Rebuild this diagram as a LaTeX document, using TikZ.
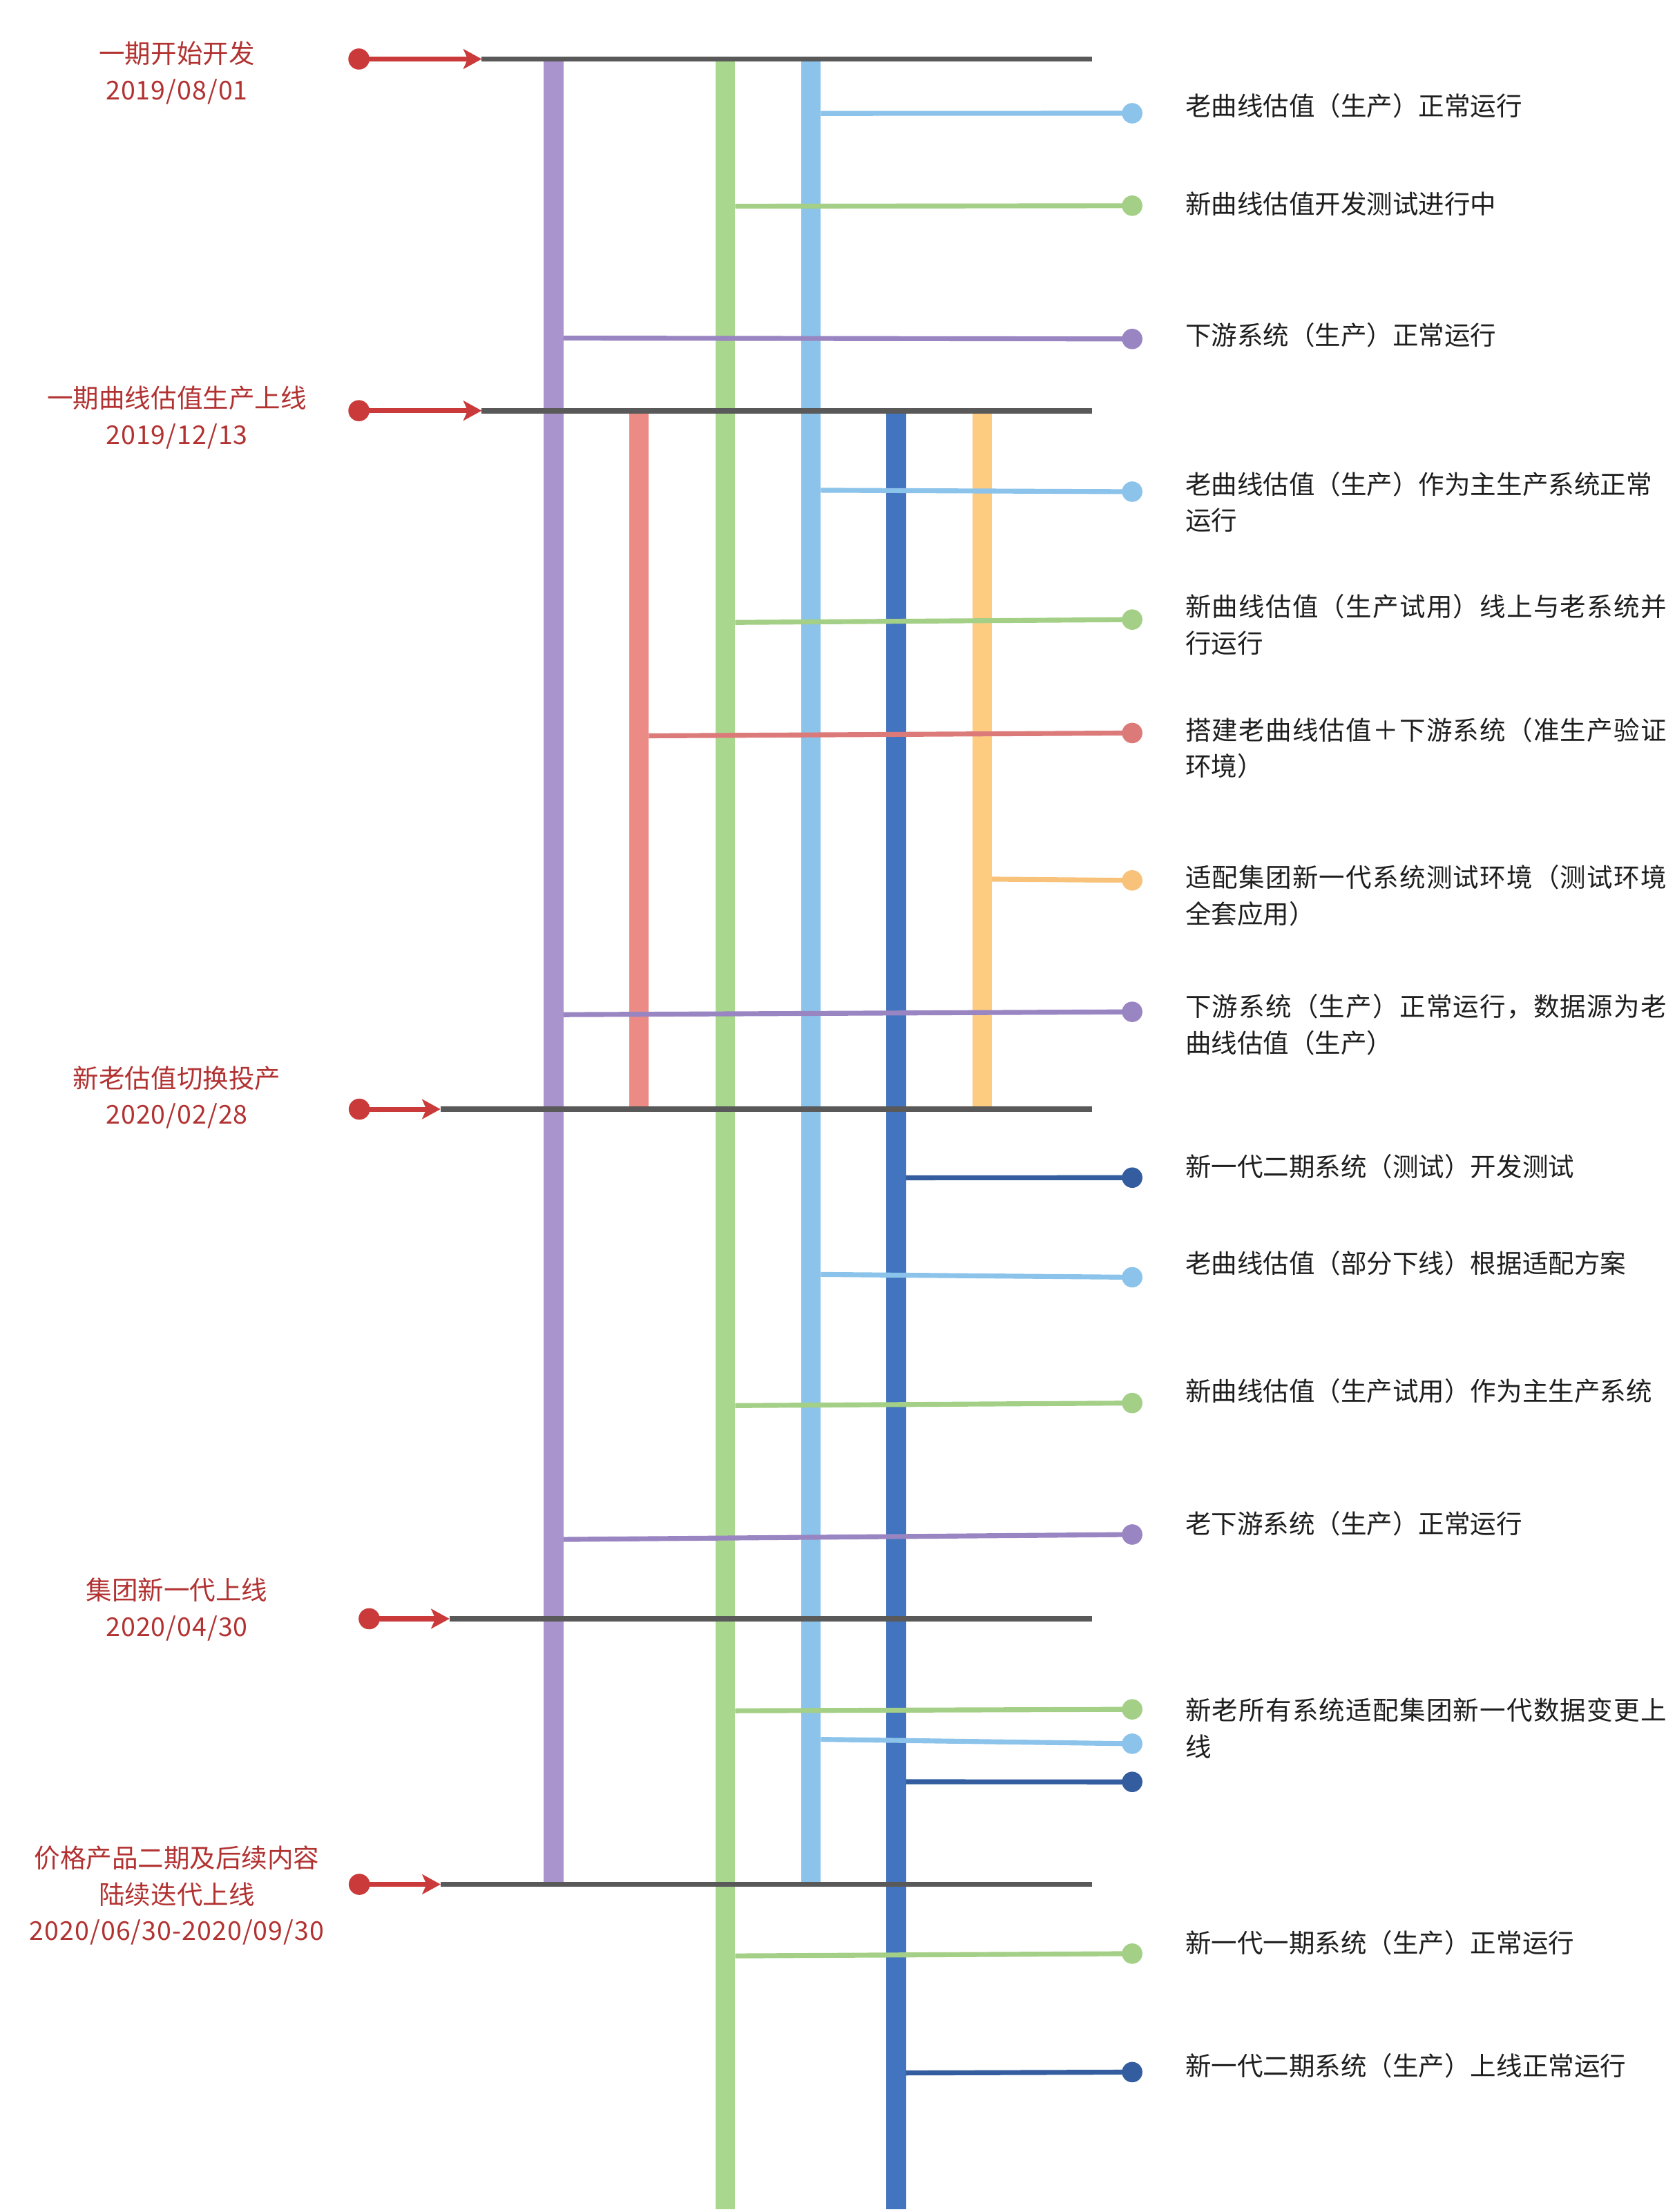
\documentclass[tikz,border=0pt]{standalone}
\usepackage{fontspec}
\setmainfont{Noto Sans CJK SC}
\usetikzlibrary{arrows.meta}
\definecolor{gry}{HTML}{595959}
\definecolor{pur}{HTML}{A994CE}
\definecolor{purb}{HTML}{9985C1}
\definecolor{sal}{HTML}{EC8A86}
\definecolor{salb}{HTML}{DC7A7A}
\definecolor{grn}{HTML}{A9D78D}
\definecolor{grnb}{HTML}{A4CF86}
\definecolor{lbl}{HTML}{8CC3EA}
\definecolor{dbl}{HTML}{4374BF}
\definecolor{dblb}{HTML}{335D9E}
\definecolor{org}{HTML}{FECC81}
\definecolor{orgb}{HTML}{F8C27B}
\definecolor{redt}{HTML}{B23232}
\definecolor{reda}{HTML}{CB3A3A}
\definecolor{txt}{HTML}{1E1E1E}
\newcommand{\wideline}[1]{{\addfontfeature{LetterSpace=3.3}#1}}
\newcommand{\widedate}[1]{{\addfontfeature{LetterSpace=2.8}#1}}
\tikzset{
  bar/.style={line width=14pt},
  gline/.style={draw=gry, line width=3.8pt},
  branch/.style={line width=3.5pt},
  enddot/.style={circle, inner sep=0pt, minimum size=14.5pt},
  startdot/.style={circle, fill=reda, inner sep=0pt, minimum size=15pt},
  arr/.style={draw=reda, line width=3.5pt, -{Stealth[length=13pt,width=14pt,inset=3pt]}},
  rlab/.style={anchor=west, align=left, inner sep=0pt, text=txt},
  llab/.style={align=center, inner sep=0pt, text=redt},
}
\begin{document}
\begin{tikzpicture}[x=1pt, y=-1pt, font=\fontsize{18.4}{25.8}\selectfont]
\useasboundingbox (0,0) rectangle (1188.7,1570.1);

% ---------- vertical bars ----------
\coordinate (pT) at (393,41.9);   \coordinate (pB) at (393,1337.5);
\coordinate (sT) at (453.5,291.5); \coordinate (sB) at (453.5,787.3);
\coordinate (gT) at (514.7,41.9); \coordinate (gB) at (514.7,1568);
\coordinate (lT) at (575.5,41.9); \coordinate (lB) at (575.5,1337.5);
\coordinate (dT) at (636,291.5);  \coordinate (dB) at (636,1568);
\coordinate (oT) at (697,291.5);  \coordinate (oB) at (697,787.3);
\draw[bar, pur] (pT) -- (pB);
\draw[bar, sal] (sT) -- (sB);
\draw[bar, grn] (gT) -- (gB);
\draw[bar, lbl] (lT) -- (lB);
\draw[bar, dbl] (dT) -- (dB);
\draw[bar, org] (oT) -- (oB);

% ---------- milestone lines ----------
\coordinate (m1l) at (341.9,41.9);  \coordinate (m1r) at (775,41.9);
\coordinate (m2l) at (341.9,291.5); \coordinate (m2r) at (775,291.5);
\coordinate (m3l) at (312.6,787.3); \coordinate (m3r) at (775,787.3);
\coordinate (m4l) at (319,1149);    \coordinate (m4r) at (775,1149);
\coordinate (m5l) at (312.7,1337.5);\coordinate (m5r) at (775,1337.5);
\foreach \i in {1,...,5} { \draw[gline] (m\i l) -- (m\i r); }

% ---------- arrows and dates ----------
\node[startdot] (a1) at (254.7,41.9) {};
\node[startdot] (a2) at (254.7,291.5) {};
\node[startdot] (a3) at (255,787.3) {};
\node[startdot] (a4) at (262,1149) {};
\node[startdot] (a5) at (255,1337.5) {};
\foreach \i in {1,...,5} { \draw[arr] (a\i.center) -- (m\i l); }

\node[llab] (L1) at (125.5,51.6) {一期开始开发\\\widedate{2019/08/01}};
\node[llab] (L2) at (125.5,296.4) {一期曲线估值生产上线\\\widedate{2019/12/13}};
\node[llab] (L3) at (125.5,779) {新老估值切换投产\\\widedate{2020/02/28}};
\node[llab] (L4) at (125.5,1142.5) {集团新一代上线\\\widedate{2020/04/30}};
\node[llab] (L5) at (125.5,1345.4) {价格产品二期及后续内容\\陆续迭代上线\\\widedate{2020/06/30-2020/09/30}};

% ---------- branches ----------
% 1
\coordinate (b1s) at (582.5,80.5);  \node[enddot, fill=lbl] (d1) at (803.5,80.4) {};
\draw[branch, lbl] (b1s) -- (d1.center);
\node[rlab] (t1) at (841,75) {老曲线估值（生产）正常运行};
% 2
\coordinate (b2s) at (521.7,146.4); \node[enddot, fill=grnb] (d2) at (803.5,146) {};
\draw[branch, grnb] (b2s) -- (d2.center);
\node[rlab] (t2) at (841,144.6) {新曲线估值开发测试进行中};
% 3
\coordinate (b3s) at (400,240);     \node[enddot, fill=purb] (d3) at (803.5,240.6) {};
\draw[branch, purb] (b3s) -- (d3.center);
\node[rlab] (t3) at (841,237.7) {下游系统（生产）正常运行};
% 4
\coordinate (b4s) at (582.5,348);   \node[enddot, fill=lbl] (d4) at (803.5,349) {};
\draw[branch, lbl] (b4s) -- (d4.center);
\node[rlab] (t4) at (841,356.3) {老曲线估值（生产）作为主生产系统正常\\运行};
% 5
\coordinate (b5s) at (521.7,441.8); \node[enddot, fill=grnb] (d5) at (803.5,439.8) {};
\draw[branch, grnb] (b5s) -- (d5.center);
\node[rlab] (t5) at (841,443.3) {\wideline{新曲线估值（生产试用）线上与老系统并}\\行运行};
% 6
\coordinate (b6s) at (460.5,522.3); \node[enddot, fill=salb] (d6) at (803.5,520.3) {};
\draw[branch, salb] (b6s) -- (d6.center);
\node[rlab] (t6) at (841,531) {\wideline{搭建老曲线估值＋下游系统（准生产验证}\\环境）};
% 7
\coordinate (b7s) at (704,624);     \node[enddot, fill=orgb] (d7) at (803.5,624.9) {};
\draw[branch, orgb] (b7s) -- (d7.center);
\node[rlab] (t7) at (841,635.5) {\wideline{适配集团新一代系统测试环境（测试环境}\\全套应用）};
% 8
\coordinate (b8s) at (400,720.2);   \node[enddot, fill=purb] (d8) at (803.5,718.2) {};
\draw[branch, purb] (b8s) -- (d8.center);
\node[rlab] (t8) at (841,727.3) {\wideline{下游系统（生产）正常运行，数据源为老}\\曲线估值（生产）};
% 9
\coordinate (b9s) at (643,836);     \node[enddot, fill=dblb] (d9) at (803.5,835.9) {};
\draw[branch, dblb] (b9s) -- (d9.center);
\node[rlab] (t9) at (841,828) {新一代二期系统（测试）开发测试};
% 10
\coordinate (b10s) at (582.5,904.6); \node[enddot, fill=lbl] (d10) at (803.5,906.6) {};
\draw[branch, lbl] (b10s) -- (d10.center);
\node[rlab] (t10) at (841,896.6) {老曲线估值（部分下线）根据适配方案};
% 11
\coordinate (b11s) at (521.7,997.7); \node[enddot, fill=grnb] (d11) at (803.5,995.9) {};
\draw[branch, grnb] (b11s) -- (d11.center);
\node[rlab] (t11) at (841,987.3) {新曲线估值（生产试用）作为主生产系统};
% 12
\coordinate (b12s) at (400,1092.7); \node[enddot, fill=purb] (d12) at (803.5,1089.2) {};
\draw[branch, purb] (b12s) -- (d12.center);
\node[rlab] (t12) at (841,1081.5) {老下游系统（生产）正常运行};
% 13
\coordinate (b13s) at (521.7,1214.3); \node[enddot, fill=grnb] (d13) at (803.5,1213.3) {};
\draw[branch, grnb] (b13s) -- (d13.center);
\coordinate (b14s) at (582.5,1234.6); \node[enddot, fill=lbl] (d14) at (803.5,1237.7) {};
\draw[branch, lbl] (b14s) -- (d14.center);
\coordinate (b15s) at (643,1264.7);   \node[enddot, fill=dblb] (d15) at (803.5,1264.8) {};
\draw[branch, dblb] (b15s) -- (d15.center);
\node[rlab] (t13) at (841,1226.6) {\wideline{新老所有系统适配集团新一代数据变更上}\\线};
% 14
\coordinate (b16s) at (521.7,1388.3); \node[enddot, fill=grnb] (d16) at (803.5,1386.7) {};
\draw[branch, grnb] (b16s) -- (d16.center);
\node[rlab] (t14) at (841,1379) {新一代一期系统（生产）正常运行};
% 15
\coordinate (b17s) at (643,1471.4);   \node[enddot, fill=dblb] (d17) at (803.5,1470.8) {};
\draw[branch, dblb] (b17s) -- (d17.center);
\node[rlab] (t15) at (841,1466.4) {新一代二期系统（生产）上线正常运行};
\end{tikzpicture}
\end{document}
